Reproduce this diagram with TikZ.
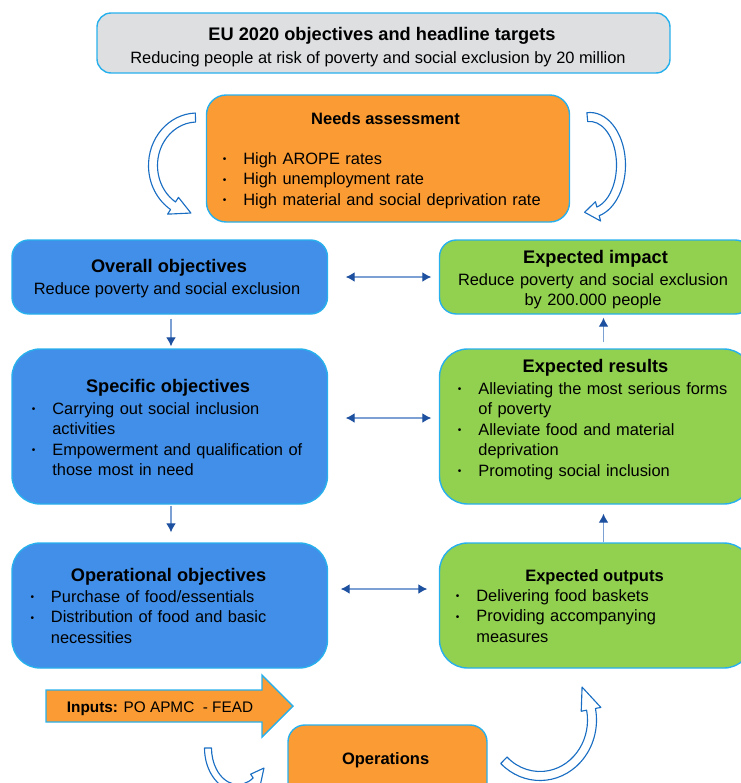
\documentclass[tikz,border=0pt]{standalone}
\usepackage{fontspec}
\setmainfont{Liberation Sans}
\usepackage{graphicx}
\usepackage{tikz}
\usetikzlibrary{arrows.meta,calc,fit}
\definecolor{goalblue}{RGB}{65,143,233}
\definecolor{outgreen}{RGB}{146,208,80}
\definecolor{needorange}{RGB}{250,155,52}
\definecolor{framegray}{RGB}{221,223,225}
\definecolor{rimcyan}{RGB}{40,176,236}
\definecolor{linkblue}{RGB}{125,160,212}
\definecolor{tipblue}{RGB}{30,80,160}
\definecolor{curlblue}{RGB}{25,110,195}
\newcommand{\bodysize}{\fontsize{11.67pt}{14.6pt}\selectfont}
\newcommand{\headbig}{\fontsize{12.95pt}{15.5pt}\selectfont\bfseries}
\newcommand{\headsmall}{\fontsize{11.74pt}{14.6pt}\selectfont\bfseries}
\newcommand{\bitem}{\makebox[15pt][l]{\hspace{0.5pt}\raisebox{0.9pt}{\scalebox{0.62}{\textbullet}}}}
\newcommand{\bgap}{\hspace*{15pt}}
% hollow curved arrow: centre x, centre y, x radius, y radius, start, end, head angle, half band, half head
\newcommand{\bendarrow}[9]{%
  \pgfmathsetmacro{\bendbase}{#6-(#7)}%
  \pgfmathsetmacro{\bendxo}{#3+#8}\pgfmathsetmacro{\bendyo}{#4+#8}%
  \pgfmathsetmacro{\bendxi}{#3-#8}\pgfmathsetmacro{\bendyi}{#4-#8}%
  \pgfmathsetmacro{\bendxh}{#3+#9}\pgfmathsetmacro{\bendyh}{#4+#9}%
  \pgfmathsetmacro{\bendxl}{#3-#9}\pgfmathsetmacro{\bendyl}{#4-#9}%
  \begin{scope}[shift={(#1,#2)}]
  \draw[curl] (#5:{\bendxo} and {\bendyo})
    arc[start angle=#5,end angle=\bendbase,x radius=\bendxo,y radius=\bendyo]
    -- (\bendbase:{\bendxh} and {\bendyh}) -- (#6:{#3} and {#4})
    -- (\bendbase:{\bendxl} and {\bendyl}) -- (\bendbase:{\bendxi} and {\bendyi})
    arc[start angle=\bendbase,end angle=#5,x radius=\bendxi,y radius=\bendyi] -- cycle;
  \end{scope}}
\tikzset{
  frame/.style={fill=framegray,draw=rimcyan,line width=1pt,inner sep=0pt,rounded corners=10pt},
  need/.style={fill=needorange,draw=rimcyan,line width=1pt,inner sep=0pt,rounded corners=14pt},
  goal/.style={fill=goalblue,draw=rimcyan,line width=1pt,inner sep=0pt},
  outcome/.style={fill=outgreen,draw=rimcyan,line width=1pt,inner sep=0pt},
  head/.style={inner sep=0pt,anchor=base,font=\headbig},
  subhead/.style={inner sep=0pt,anchor=base,font=\headsmall},
  txt/.style={inner sep=0pt,anchor=base,font=\bodysize},
  lines/.style={inner sep=0pt,anchor=base,font=\bodysize,text width=7.5cm,align=center},
  bullets/.style={inner sep=0pt,anchor=base west,font=\bodysize,text width=10cm,align=left},
  link/.style={<->,draw=linkblue,line width=0.9pt},
  flow/.style={->,draw=linkblue,line width=0.9pt},
  curl/.style={draw=curlblue,fill=white,line width=0.8pt,line join=round}
}
\begin{document}
\begin{tikzpicture}[x=0.025cm,y=0.025cm,>={Latex[length=6.4pt,width=7pt,color=tipblue]}]
\useasboundingbox (0,0) rectangle (741,-783);
\clip (0,0) rectangle (741,-783);
% target and needs
\node[frame,fit={(97,-13) (670,-73)}] (eu) {};
\node[head] (eut) at (382,-40) {EU 2020 objectives and headline targets};
\node[txt] (eus) at (378,-63) {Reducing people at risk of poverty and social exclusion by 20 million};
\node[need,fit={(206.5,-95) (569.5,-222)}] (needs) {};
\node[subhead] (needst) at (385.5,-124) {Needs assessment};
\node[bullets] (needsl) at (222,-164) {\bitem High AROPE rates\\\bitem High unemployment rate\\\bitem High material and social deprivation rate};
\bendarrow{197}{-165.5}{44}{48}{92}{262}{25}{4.5}{10}
\bendarrow{590}{-165}{31}{48}{95}{-100}{-25}{4.5}{10}
% objectives (left)
\node[goal,rounded corners=12pt,fit={(12,-240) (327.5,-314)}] (ovr) {};
\node[head] (ovrt) at (169,-272.7) {Overall objectives};
\node[txt] (ovrs) at (167,-294) {Reduce poverty and social exclusion};
\node[goal,rounded corners=20pt,fit={(12,-349) (327.5,-504)}] (spec) {};
\node[head] (spect) at (168,-392) {Specific objectives};
\node[bullets] (specl) at (31,-414) {\bitem Carrying out social inclusion\\\bgap activities\\\bitem Empowerment and qualification of\\\bgap those most in need};
\node[goal,rounded corners=20pt,fit={(12,-543) (327.5,-668)}] (oper) {};
\node[head] (opert) at (168.5,-581) {Operational objectives};
\node[bullets] (operl) at (29.6,-602) {\bitem Purchase of food/essentials\\\bitem Distribution of food and basic\\\bgap necessities};
% results (right)
\node[outcome,rounded corners=12pt,fit={(439.5,-240) (752,-314)}] (imp) {};
\node[head] (impt) at (595.5,-263) {Expected impact};
\node[lines] (imps) at (593,-285) {Reduce poverty and social exclusion\\by 200.000 people};
\node[outcome,rounded corners=20pt,fit={(439.5,-349) (752,-504)}] (res) {};
\node[head] (rest) at (595.5,-372) {Expected results};
\node[bullets] (resl) at (457,-394) {\bitem Alleviating the most serious forms\\\bgap of poverty\\\bitem Alleviate food and material\\\bgap deprivation\\\bitem Promoting social inclusion};
\node[outcome,rounded corners=20pt,fit={(439.5,-543) (752,-668)}] (out) {};
\node[subhead] (outt) at (594.5,-581) {Expected outputs};
\node[bullets] (outl) at (455,-601) {\bitem Delivering food baskets\\\bitem Providing accompanying\\\bgap measures};
% links
\draw[link] ($(ovr.east)+(17.5,0)$) -- ($(imp.west)+(-7.5,0)$);
\draw[link] ($(spec.east)+(17.5,8.5)$) -- ($(res.west)+(-7.5,8.5)$);
\draw[link] ($(oper.east)+(12.5,16.5)$) -- ($(out.west)+(-11.5,16.5)$);
\draw[flow] ($(ovr.south)+(1.25,-4)$) -- ($(spec.north)+(1.25,2)$);
\draw[flow] ($(spec.south)+(1.25,-1)$) -- ($(oper.north)+(1.25,10)$);
\draw[flow] ($(res.north)+(7.75,6)$) -- ($(imp.south)+(7.75,-3)$);
\draw[flow] ($(out.north)+(7.75,0)$) -- ($(res.south)+(7.75,-9)$);
% inputs and operations
\draw[fill=needorange,draw=rimcyan,line width=1pt] (46,-690) -- (262,-690) -- (262,-675) -- (293,-706)
  -- (262,-737) -- (262,-722) -- (46,-722) -- cycle;
\node[txt,font=\fontsize{10.9pt}{13pt}\selectfont] (inp) at (160,-712.3) {\textbf{Inputs:} PO APMC\ \ - FEAD};
\node[need,rounded corners=12pt,fit={(288,-725) (487,-810)}] (ops) {};
\node[subhead] (opst) at (385.6,-764.3) {Operations};
\bendarrow{540}{-720}{52}{56}{226}{396}{25}{4.5}{10}
\bendarrow{238}{-748}{30}{40}{180}{330}{25}{3.5}{8}
\end{tikzpicture}
\end{document}
